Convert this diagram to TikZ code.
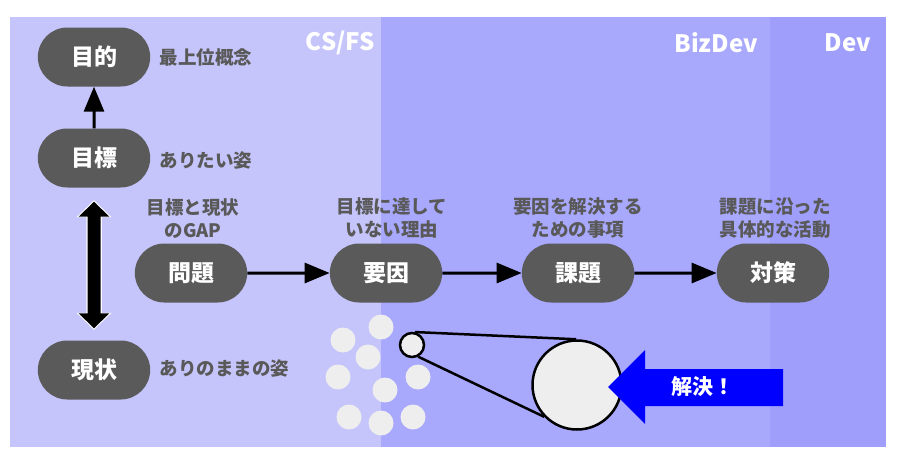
\documentclass[tikz,border=0pt]{standalone}
\usepackage{fontspec}
\setmainfont{Noto Sans CJK JP}
\usetikzlibrary{arrows.meta, positioning, shapes.misc}
\definecolor{csfsbg}{HTML}{C5C5FB}
\definecolor{bizdevbg}{HTML}{A8A8FC}
\definecolor{devbg}{HTML}{9F9FFB}
\definecolor{pillgray}{HTML}{5A5A5A}
\definecolor{notegray}{HTML}{595959}
\definecolor{dotgray}{HTML}{EEEEEE}
\definecolor{solveblue}{HTML}{0000FF}

\begin{document}
\begin{tikzpicture}[
    x=1pt, y=-1pt,
    pill/.style={rounded rectangle, fill=pillgray, minimum width=119pt, minimum height=59pt, text=white, font=\fontsize{23}{27}\selectfont\bfseries},
    note/.style={inner sep=0pt, text=notegray, align=center, font=\fontsize{18.5}{23}\selectfont\bfseries},
    lane/.style={inner sep=0pt, anchor=east, text=white, font=\fontsize{24}{28}\selectfont\bfseries},
    flow/.style={-{Triangle[length=25pt, width=20pt]}, line width=3pt},
    gaparrow/.style={{Triangle[length=15pt, width=30pt]}-{Triangle[length=15pt, width=30pt]}, line width=13pt},
    dotnode/.style={circle, fill=dotgray, minimum size=25pt, inner sep=0pt},
    lens/.style={circle, draw, line width=2.5pt, fill=dotgray, inner sep=0pt}
]
    \useasboundingbox (0,0) rectangle (904,466);

    % lanes
    \fill[csfsbg] (10,17) rectangle (381,447);
    \fill[bizdevbg] (381,17) rectangle (770,447);
    \fill[devbg] (770,17) rectangle (886,447);
    \node[lane] (csfs) at (375,43) {CS/FS};
    \node[lane] (bizdev) at (758,43) {BizDev};
    \node[lane] (dev) at (871,43) {Dev};

    % left column
    \node[pill] (purpose) at (94,57) {目的};
    \node[pill] (target) at (94,158) {目標};
    \node[pill] (now) at (94,370) {現状};
    \node[note, right=9pt of purpose] (purposenote) {最上位概念};
    \node[note, right=9pt of target, yshift=-2pt] (targetnote) {ありたい姿};
    \node[note, right=9pt of now, yshift=2pt] (nownote) {ありのままの姿};

    \draw[flow] (target) -- (purpose);
    \draw[gaparrow, white, line width=15.5pt, shorten <=12.5pt, shorten >=10.5pt, {Triangle[length=17pt, width=34pt]}-{Triangle[length=17pt, width=34pt]}] (target) -- (now);
    \draw[gaparrow, black, shorten <=14pt, shorten >=12pt] (target) -- (now);

    % flow
    \node[pill] (problem) at (191,273) {問題};
    \node[pill] (cause) at (386,273) {要因};
    \node[pill] (issue) at (578,273) {課題};
    \node[pill] (action) at (773,273) {対策};
    \node[note, above=5pt of problem, xshift=2pt] (problemnote) {目標と現状\\のGAP};
    \node[note, above=5pt of cause, xshift=6pt] (causenote) {目標に達して\\いない理由};
    \node[note, above=5pt of issue] (issuenote) {要因を解決する\\ための事項};
    \node[note, above=5pt of action, xshift=2pt] (actionnote) {課題に沿った\\具体的な活動};

    \draw[flow] (problem) -- (cause);
    \draw[flow] (cause) -- (issue);
    \draw[flow] (issue) -- (action);

    % causes
    \foreach \p [count=\i] in {(381,327),(343,340),(368,357),(338,377),(385,390),(418,377),(349,417),(381,423),(413,417)}
        \node[dotnode] (dot\i) at \p {};
    \node[lens, minimum size=24pt] (small) at (412,345) {};
    \node[lens, minimum size=89pt] (big) at (577,385) {};
    \draw[line width=2.5pt] (small.78) -- (big.91);
    \draw[line width=2.5pt] (small.298) -- (big.224);

    \fill[solveblue] (783,369) -- (645,369) -- (645,350) -- (608,387) -- (645,424) -- (645,406) -- (783,406) -- cycle;
    \node[text=white, font=\fontsize{21}{25}\selectfont\bfseries] (solve) at (703,387) {解決！};
\end{tikzpicture}
\end{document}
